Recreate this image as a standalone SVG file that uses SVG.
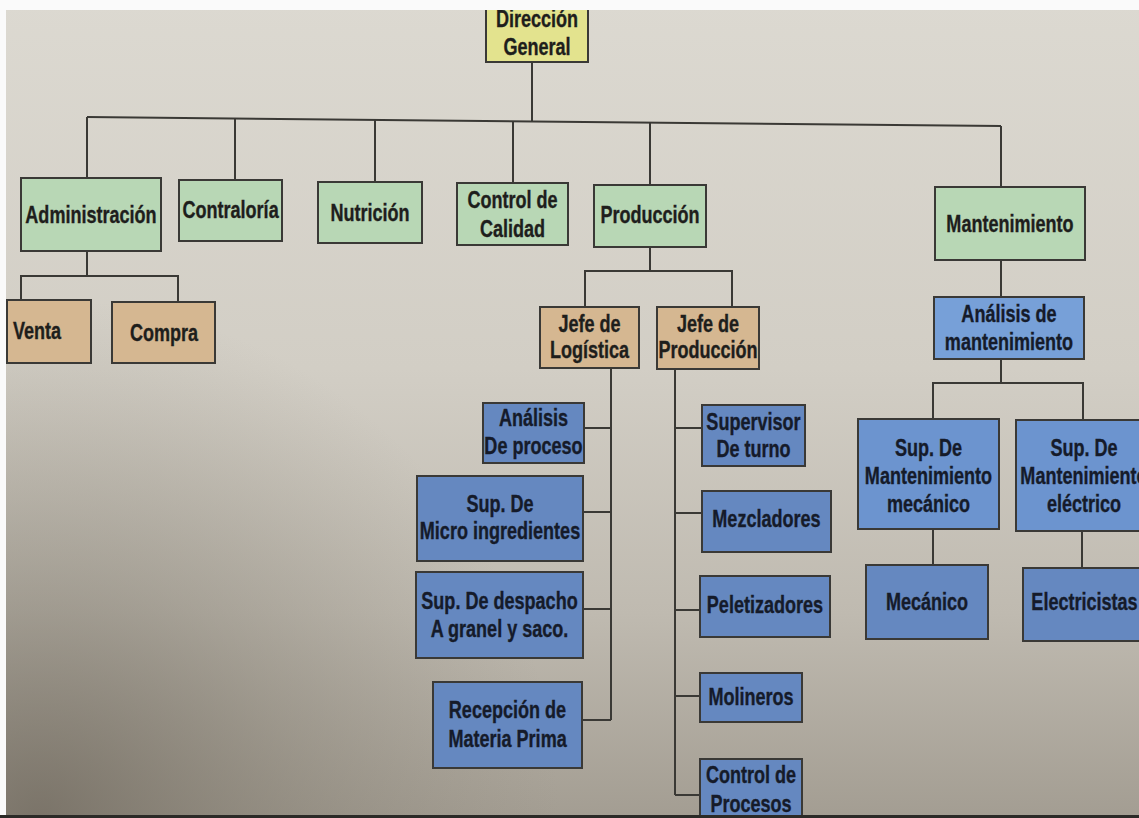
<svg xmlns="http://www.w3.org/2000/svg" width="1139" height="818" viewBox="0 0 1139 818">
  <defs>
    <linearGradient id="paper" x1="0" y1="0" x2="0" y2="1">
      <stop offset="0" stop-color="#dcd9d1"/>
      <stop offset="0.45" stop-color="#d2cec5"/>
      <stop offset="0.75" stop-color="#bfbab0"/>
      <stop offset="1" stop-color="#a39d92"/>
    </linearGradient>
    <radialGradient id="shade" cx="40" cy="818" r="520" gradientUnits="userSpaceOnUse">
      <stop offset="0" stop-color="#6d665b" stop-opacity="0.75"/>
      <stop offset="0.5" stop-color="#7a7468" stop-opacity="0.35"/>
      <stop offset="1" stop-color="#8a8478" stop-opacity="0"/>
    </radialGradient>
    <style>
      .box { stroke: #3a3936; stroke-width: 2; }
      .yellow { fill: #e3e38e; }
      .green { fill: #b8d7b5; }
      .tan { fill: #d5b791; }
      .blue { fill: #6588c0; }
      .blue-light { fill: #77a0d8; }
      .blue-mid { fill: #6c94cf; }
      .link { fill: none; stroke: #3a3935; stroke-width: 2; }
      text {
        font-family: "Liberation Sans", Arial, sans-serif;
        font-weight: bold;
        font-size: 23px;
        fill: #1e1e1c;
        stroke: #1e1e1c;
        stroke-width: 0.35;
        text-anchor: middle;
        transform-box: fill-box;
        transform-origin: center;
        transform: scaleX(0.785);
      }
      .on-blue { fill: #151b2a; stroke: #151b2a; }
    </style>
  </defs>

  <!-- paper -->
  <rect x="0" y="0" width="1139" height="818" fill="url(#paper)"/>
  <rect x="0" y="0" width="1139" height="818" fill="url(#shade)"/>

  <!-- connectors -->
  <g id="connectors" class="link">
    <path d="M532,62 V121.4"/>
    <path d="M87,117 L1001,126"/>
    <path d="M87,117 V178"/>
    <path d="M235,118.5 V180"/>
    <path d="M375,119.8 V182"/>
    <path d="M513,121.2 V183"/>
    <path d="M650,122.5 V185"/>
    <path d="M1001,126 V187"/>
    <path d="M87,251 V276"/>
    <path d="M21,300 V276 H178 V302"/>
    <path d="M650,247 V271"/>
    <path d="M585,307 V271 H732 V307"/>
    <path d="M611,368 V720"/>
    <path d="M584,428 H611 M583,512 H611 M583,609 H611 M582,720 H611"/>
    <path d="M675,369 V795"/>
    <path d="M675,428 H702 M675,513 H702 M675,610 H700 M675,696 H700 M675,795 H700"/>
    <path d="M1001,260 V297"/>
    <path d="M1001,359 V383"/>
    <path d="M933,419 V383 H1083 V420"/>
    <path d="M933,529 V565"/>
    <path d="M1082,531 V568"/>
  </g>

  <!-- top level -->
  <g id="direccion-general">
    <rect class="box yellow" x="486" y="2" width="102" height="60"/>
    <text x="537" y="27">Dirección</text>
    <text x="537" y="55">General</text>
  </g>

  <!-- departments -->
  <g id="administracion">
    <rect class="box green" x="21" y="178" width="140" height="73"/>
    <text x="91" y="223">Administración</text>
  </g>
  <g id="contraloria">
    <rect class="box green" x="179" y="180" width="103" height="61"/>
    <text x="230.5" y="218">Contraloría</text>
  </g>
  <g id="nutricion">
    <rect class="box green" x="318" y="182" width="104" height="61"/>
    <text x="370" y="221">Nutrición</text>
  </g>
  <g id="control-calidad">
    <rect class="box green" x="457" y="183" width="111" height="62"/>
    <text x="512.5" y="208">Control de</text>
    <text x="512.5" y="237">Calidad</text>
  </g>
  <g id="produccion">
    <rect class="box green" x="594" y="185" width="112" height="62"/>
    <text x="650" y="223">Producción</text>
  </g>
  <g id="mantenimiento">
    <rect class="box green" x="935" y="187" width="150" height="73"/>
    <text x="1010" y="232">Mantenimiento</text>
  </g>

  <!-- administración -->
  <g id="venta">
    <rect class="box tan" x="7" y="300" width="84" height="63"/>
    <text x="37" y="339">Venta</text>
  </g>
  <g id="compra">
    <rect class="box tan" x="112" y="302" width="103" height="61"/>
    <text x="164" y="341">Compra</text>
  </g>

  <!-- producción -->
  <g id="jefe-logistica">
    <rect class="box tan" x="540" y="307" width="99" height="61"/>
    <text x="589.5" y="332">Jefe de</text>
    <text x="589.5" y="358">Logística</text>
  </g>
  <g id="jefe-produccion">
    <rect class="box tan" x="657" y="307" width="102" height="62"/>
    <text x="708" y="332">Jefe de</text>
    <text x="708" y="358">Producción</text>
  </g>

  <!-- logística -->
  <g id="analisis-proceso">
    <rect class="box blue" x="483" y="403" width="101" height="60"/>
    <text class="on-blue" x="533.5" y="426">Análisis</text>
    <text class="on-blue" x="533.5" y="454">De proceso</text>
  </g>
  <g id="sup-micro">
    <rect class="box blue" x="417" y="476" width="166" height="85"/>
    <text class="on-blue" x="500" y="512">Sup. De</text>
    <text class="on-blue" x="500" y="539">Micro ingredientes</text>
  </g>
  <g id="sup-despacho">
    <rect class="box blue" x="416" y="572" width="167" height="86"/>
    <text class="on-blue" x="499.5" y="609">Sup. De despacho</text>
    <text class="on-blue" x="499.5" y="637">A granel y saco.</text>
  </g>
  <g id="recepcion">
    <rect class="box blue" x="433" y="682" width="149" height="86"/>
    <text class="on-blue" x="507.5" y="718">Recepción de</text>
    <text class="on-blue" x="507.5" y="747">Materia Prima</text>
  </g>

  <!-- jefe de producción -->
  <g id="supervisor-turno">
    <rect class="box blue" x="702" y="405" width="103" height="61"/>
    <text class="on-blue" x="753.5" y="430">Supervisor</text>
    <text class="on-blue" x="753.5" y="457">De turno</text>
  </g>
  <g id="mezcladores">
    <rect class="box blue" x="702" y="491" width="129" height="61"/>
    <text class="on-blue" x="766.5" y="527">Mezcladores</text>
  </g>
  <g id="peletizadores">
    <rect class="box blue" x="700" y="576" width="130" height="61"/>
    <text class="on-blue" x="765" y="613">Peletizadores</text>
  </g>
  <g id="molineros">
    <rect class="box blue" x="700" y="673" width="102" height="49"/>
    <text class="on-blue" x="751" y="705">Molineros</text>
  </g>
  <g id="control-procesos">
    <rect class="box blue" x="700" y="759" width="102" height="70"/>
    <text class="on-blue" x="751" y="783">Control de</text>
    <text class="on-blue" x="751" y="812">Procesos</text>
  </g>

  <!-- mantenimiento -->
  <g id="analisis-mantenimiento">
    <rect class="box blue-light" x="934" y="297" width="150" height="62"/>
    <text class="on-blue" x="1009" y="322">Análisis de</text>
    <text class="on-blue" x="1009" y="350">mantenimiento</text>
  </g>
  <g id="sup-mant-mecanico">
    <rect class="box blue-mid" x="858" y="419" width="141" height="110"/>
    <text class="on-blue" x="928.5" y="456">Sup. De</text>
    <text class="on-blue" x="928.5" y="484">Mantenimiento</text>
    <text class="on-blue" x="928.5" y="512">mecánico</text>
  </g>
  <g id="sup-mant-electrico">
    <rect class="box blue-mid" x="1016" y="420" width="135" height="111"/>
    <text class="on-blue" x="1084" y="456">Sup. De</text>
    <text class="on-blue" x="1084" y="484">Mantenimiento</text>
    <text class="on-blue" x="1084" y="512">eléctrico</text>
  </g>
  <g id="mecanico">
    <rect class="box blue" x="866" y="565" width="122" height="74"/>
    <text class="on-blue" x="927" y="610">Mecánico</text>
  </g>
  <g id="electricistas">
    <rect class="box blue" x="1023" y="568" width="125" height="73"/>
    <text class="on-blue" x="1084.5" y="610">Electricistas</text>
  </g>

  <!-- page edges -->
  <rect x="0" y="0" width="1139" height="10" fill="#fafafa"/>
  <rect x="0" y="0" width="6" height="818" fill="#fafafa"/>
  <rect x="0" y="815" width="1139" height="3" fill="#2b2a27"/>
</svg>
